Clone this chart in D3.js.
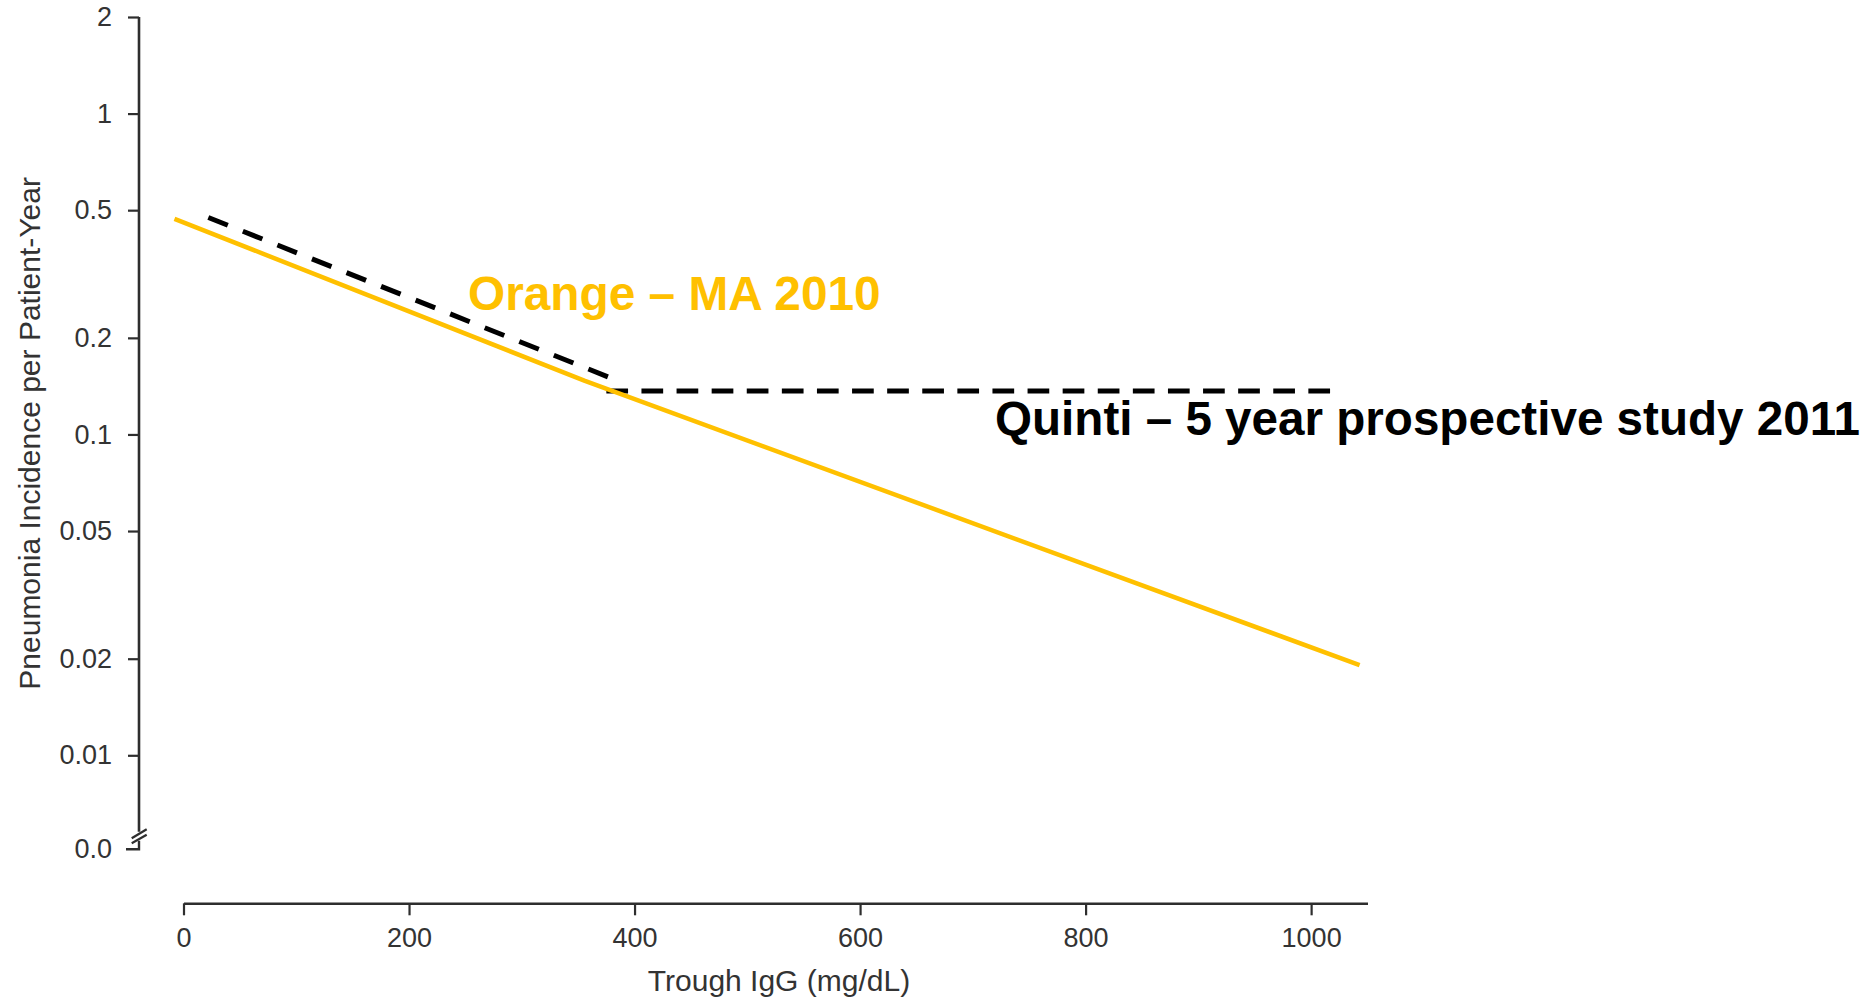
<!DOCTYPE html>
<html>
<head>
<meta charset="utf-8">
<script src="https://cdn.jsdelivr.net/npm/d3@7"></script>
<style>
  html, body { margin: 0; padding: 0; background: #ffffff; }
  svg { display: block; }
  text { font-family: "Liberation Sans", Arial, Helvetica, sans-serif; }
</style>
</head>
<body>
<svg id="chart" width="1867" height="1000"></svg>
<script>
// Axis ticks
const xTicks = [0, 200, 400, 600, 800, 1000];
const yTicks = [2, 1, 0.5, 0.2, 0.1, 0.05, 0.02, 0.01];
const zeroLabel = "0.0";

// Orange meta-analysis (2010): pneumonia incidence vs trough IgG
const orangeIgG  = [-8, 356, 1043];
const orangeRate = [0.470, 0.1469, 0.0191];

// Quinti 5-year prospective study (2011): falling part, then plateau
const quintiSlopeIgG  = [22, 377];
const quintiSlopeRate = [0.4745, 0.1509];
const quintiFlatIgG   = [375, 1017];
const quintiFlatRate  = [0.1366, 0.1366];

// Labels
const orangeLabel = "Orange \u2013 MA 2010";
const quintiLabel = "Quinti \u2013 5 year prospective study 2011";
const xTitle = "Trough IgG (mg/dL)";
const yTitle = "Pneumonia Incidence per Patient-Year";

const svg = d3.select("#chart");
const axisColor = "#2e2e2e";
const gold = "#FFC000";

const x = d3.scaleLinear().domain([0, 1050]).range([183.5, 1367.5]);
const y = d3.scaleLog().domain([0.01, 2]).range([755.3, 17]);

const axisX = 139;       // y axis position
const axisY = 903.3;     // x axis position
const zeroY = y(0.01) + 94; // "0.0" sits below the axis break

// ---- x axis ----
const gx = svg.append("g")
  .attr("transform", `translate(0,${axisY})`)
  .call(d3.axisBottom(x).tickValues(xTicks).tickFormat(d => String(d))
    .tickSize(12).tickPadding(12.7).tickSizeOuter(0));
gx.select(".domain").attr("stroke", axisColor).attr("stroke-width", 2.6);
gx.selectAll(".tick line").attr("stroke", axisColor).attr("stroke-width", 2.2);
gx.selectAll(".tick text").attr("font-size", 27).attr("fill", "#333")
  .attr("font-family", "'Liberation Sans', Arial, sans-serif");

// ---- y axis ----
const gy = svg.append("g")
  .attr("transform", `translate(${axisX},0)`)
  .call(d3.axisLeft(y).tickValues(yTicks).tickFormat(d => String(d))
    .tickSize(11).tickPadding(16).tickSizeOuter(0));
gy.select(".domain").remove();
gy.selectAll(".tick line").attr("stroke", axisColor).attr("stroke-width", 2.2);
gy.selectAll(".tick text").attr("font-size", 27).attr("fill", "#333")
  .attr("font-family", "'Liberation Sans', Arial, sans-serif");

// y axis line, interrupted by a break above zero
gy.append("line")
  .attr("x1", 0).attr("x2", 0)
  .attr("y1", y(2)).attr("y2", zeroY - 17.5)
  .attr("stroke", axisColor).attr("stroke-width", 2.6);
gy.append("path")
  .attr("d", `M0,${zeroY - 8.5}V${zeroY}H-13`)
  .attr("fill", "none").attr("stroke", axisColor).attr("stroke-width", 2.4);
[[-11, -20], [-6, -14.5]].forEach(([a, b]) => {
  gy.append("line")
    .attr("x1", -7.3).attr("y1", zeroY + a)
    .attr("x2", 7.7).attr("y2", zeroY + b)
    .attr("stroke", axisColor).attr("stroke-width", 2.2);
});
gy.append("text")
  .attr("x", -27).attr("y", zeroY).attr("dy", "0.32em")
  .attr("text-anchor", "end").attr("font-size", 27).attr("fill", "#333")
  .text(zeroLabel);

// ---- axis titles ----
svg.append("text")
  .attr("x", 779).attr("y", 991)
  .attr("text-anchor", "middle").attr("font-size", 30).attr("fill", "#333")
  .text(xTitle);
svg.append("text")
  .attr("transform", "translate(39.5,433.4) rotate(-90)")
  .attr("text-anchor", "middle").attr("font-size", 30).attr("fill", "#333")
  .text(yTitle);

// ---- curves ----
const line = d3.line().x(d => x(d[0])).y(d => y(d[1]));
const pairs = (xs, ys) => xs.map((v, i) => [v, ys[i]]);

svg.append("path")
  .datum(pairs(quintiSlopeIgG, quintiSlopeRate))
  .attr("d", line)
  .attr("fill", "none").attr("stroke", "#000").attr("stroke-width", 5)
  .attr("stroke-dasharray", "21,16.2");
svg.append("path")
  .datum(pairs(quintiFlatIgG, quintiFlatRate))
  .attr("d", line)
  .attr("fill", "none").attr("stroke", "#000").attr("stroke-width", 5)
  .attr("stroke-dasharray", "21.7,13.4");

svg.append("path")
  .datum(pairs(orangeIgG, orangeRate))
  .attr("d", line)
  .attr("fill", "none").attr("stroke", gold).attr("stroke-width", 4.5)
  .attr("stroke-linejoin", "round");

// ---- series labels ----
svg.append("text")
  .attr("x", 468).attr("y", 310)
  .attr("font-size", 47.8).attr("font-weight", "bold").attr("fill", gold)
  .text(orangeLabel);
svg.append("text")
  .attr("x", 995).attr("y", 435)
  .attr("font-size", 47.6).attr("font-weight", "bold").attr("fill", "#000")
  .text(quintiLabel);
</script>
</body>
</html>
